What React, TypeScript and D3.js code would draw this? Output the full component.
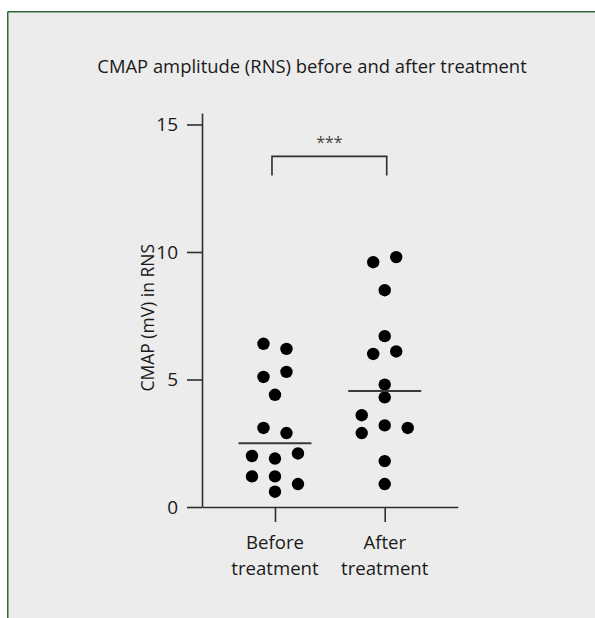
import * as d3 from "d3";
import { useEffect, useRef } from "react";

const W = 595;
const H = 618;

// values (mV)
const groups = ["Before", "After"];
const groupLabels = [["Before", "treatment"], ["After", "treatment"]];
const beforeValues = [6.4, 6.2, 5.1, 5.3, 4.4, 3.1, 2.9, 2.0, 1.9, 2.1, 1.2, 1.2, 0.9, 0.6];
const afterValues = [9.6, 9.8, 8.5, 6.7, 6.0, 6.1, 4.8, 4.3, 3.6, 3.2, 3.1, 2.9, 1.8, 0.9];
const yTicks = [0, 5, 10, 15];
const yTop = 15.45;
const bracketLevels = [13.75, 13.0];
const significance = "***";
const title = "CMAP amplitude (RNS) before and after treatment";
const yLabel = "CMAP (mV) in RNS";

const font = "'Open Sans', sans-serif";
const ink = "#1a1a1a";
const axisColor = "#2e2e2e";

// rough GraphPad-like row layout: close values share a row, spread sideways
function swarmOffsets(values: number[], y: (v: number) => number, step: number) {
  const order = d3.range(values.length).sort((a, b) => values[b] - values[a] || a - b);
  const rows: number[][] = [];
  let cur: number[] = [];
  order.forEach((i) => {
    const last = cur[cur.length - 1];
    if (cur.length && cur.length < 3 && values[last] - values[i] < 0.45) cur.push(i);
    else {
      if (cur.length) rows.push(cur);
      cur = [i];
    }
  });
  if (cur.length) rows.push(cur);

  const off: number[] = new Array(values.length).fill(0);
  const placed: [number, number][] = [];
  rows.forEach((row) => {
    row.sort((a, b) => a - b);
    row.forEach((i, k) => {
      const py = y(values[i]);
      const hits = (x: number) => placed.some(([px, qy]) => Math.abs(px - x) < 12 && Math.abs(qy - py) < 12);
      let dx = (k - (row.length - 1) / 2) * step;
      if (hits(dx)) {
        for (const c of [step, -step, 2 * step, -2 * step]) {
          if (!hits(dx + c)) { dx += c; break; }
        }
      }
      off[i] = dx;
      placed.push([dx, py]);
    });
  });
  return off;
}

export default function App() {
  const svgRef = useRef<SVGSVGElement>(null);

  useEffect(() => {
    const svg = d3.select(svgRef.current);
    svg.selectAll("*").remove();

    // panel background + green frame
    svg.append("rect").attr("x", 7).attr("y", 11).attr("width", W).attr("height", H).attr("fill", "#ececec");
    svg.append("line").attr("x1", 7.75).attr("x2", W).attr("y1", 11.75).attr("y2", 11.75)
      .attr("stroke", "#2f6b3b").attr("stroke-width", 1.5);
    svg.append("line").attr("x1", 7.75).attr("x2", 7.75).attr("y1", 11.75).attr("y2", H)
      .attr("stroke", "#2f6b3b").attr("stroke-width", 1.5);

    const y = d3.scaleLinear().domain([0, yTop]).range([507, 113]);
    const x = d3.scalePoint<string>().domain(groups).range([202, 457.7]).padding(0.665);

    svg.append("text")
      .attr("x", 312).attr("y", 73)
      .attr("text-anchor", "middle")
      .style("font-family", font).style("font-size", "18.4px").style("fill", ink)
      .text(title);

    // y axis
    const gy = svg.append("g").attr("transform", "translate(202,0)")
      .call(d3.axisLeft(y).tickValues(yTicks).tickSize(15).tickSizeOuter(0).tickPadding(9));
    gy.selectAll("path, line").attr("stroke", axisColor).attr("stroke-width", 1.6);
    gy.selectAll("text").style("font-family", font).style("font-size", "19px").style("fill", ink);

    // x axis
    const gx = svg.append("g").attr("transform", "translate(0,507)")
      .call(d3.axisBottom(x).tickSize(15).tickSizeOuter(0).tickFormat(() => ""));
    gx.selectAll("path, line").attr("stroke", axisColor).attr("stroke-width", 1.6);

    groupLabels.forEach((lines, gi) => {
      const t = svg.append("text")
        .attr("text-anchor", "middle")
        .style("font-family", font).style("font-size", "18.6px").style("fill", ink);
      lines.forEach((ln, li) => {
        t.append("tspan").attr("x", x(groups[gi])!).attr("y", 549 + li * 26).text(ln);
      });
    });

    svg.append("text")
      .attr("transform", `translate(154,${(y(0) + y(15)) / 2 + 2}) rotate(-90)`)
      .attr("text-anchor", "middle")
      .style("font-family", font).style("font-size", "17.5px").style("fill", ink)
      .text(yLabel);

    // dots + median lines
    [beforeValues, afterValues].forEach((vals, gi) => {
      const cx = x(groups[gi])!;
      const offs = swarmOffsets(vals, y, 23);
      svg.append("g").selectAll("circle")
        .data(vals)
        .enter()
        .append("circle")
        .attr("cx", (d, i) => cx + offs[i])
        .attr("cy", (d) => y(d))
        .attr("r", 6.2)
        .attr("fill", "#000");

      const med = d3.median(vals)!;
      svg.append("line")
        .attr("x1", cx - 36.5).attr("x2", cx + 36.5)
        .attr("y1", y(med)).attr("y2", y(med))
        .attr("stroke", "#3a3a3a").attr("stroke-width", 2);
    });

    // significance bracket
    const bx1 = x(groups[0])! - 3;
    const bx2 = x(groups[1])! + 2;
    svg.append("path")
      .attr("d", `M${bx1},${y(bracketLevels[1])}V${y(bracketLevels[0])}H${bx2}V${y(bracketLevels[1])}`)
      .attr("fill", "none").attr("stroke", axisColor).attr("stroke-width", 1.6);
    svg.append("text")
      .attr("x", (bx1 + bx2) / 2).attr("y", 148)
      .attr("text-anchor", "middle")
      .style("font-family", font).style("font-size", "16px").style("fill", "#444")
      .text(significance);
  }, []);

  return (
    <svg
      ref={svgRef}
      width={W}
      height={H}
      style={{ position: "absolute", left: 0, top: 0, background: "#fff" }}
    />
  );
}
